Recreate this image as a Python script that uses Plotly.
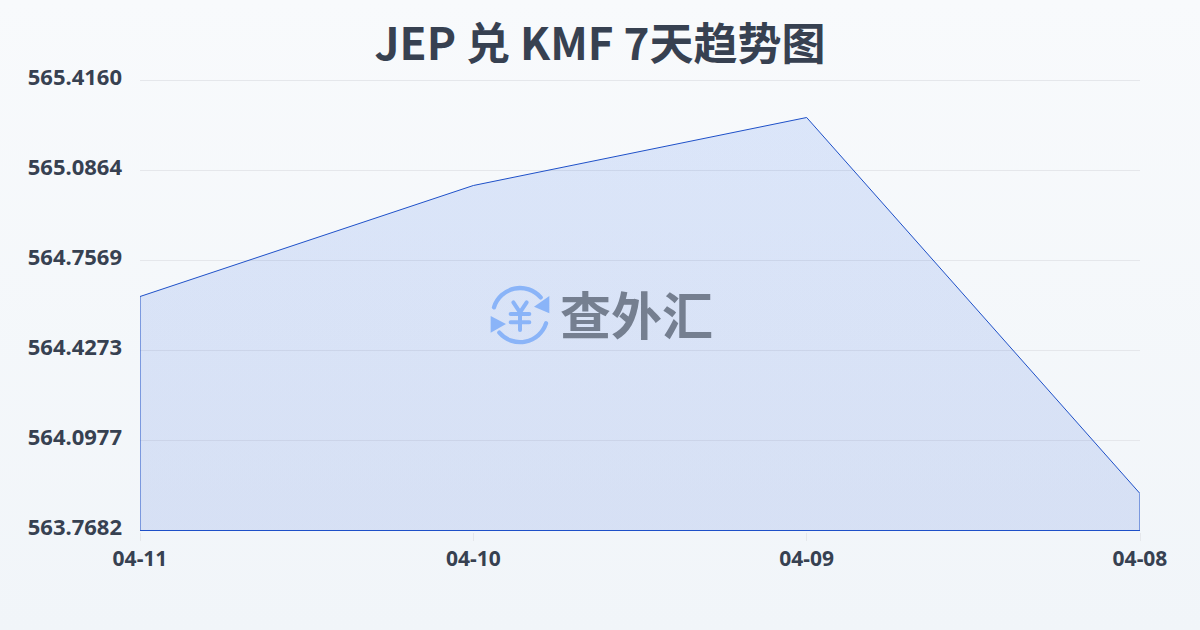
import base64
import plotly.graph_objects as go

dates = ['04-11', '04-10', '04-09', '04-08']
rates = [564.625, 565.0315, 565.2805, 563.9035]
y_ticks = [563.7682, 564.0977, 564.4273, 564.7569, 565.0864, 565.4160]
y_labels = ['563.7682', '564.0977', '564.4273', '564.7569', '565.0864', '565.4160']

title_text = 'JEP 兑 KMF 7天趋势图'
watermark_text = '查外汇'
font_main = 'Noto Sans, Noto Sans CJK SC'
font_cjk = 'Noto Sans CJK SC'
text_color = '#374151'
line_color = '#1e50c8'

# plot box in page pixels, 1.5px spare top and bottom so the end gridlines are kept
W, H = 1200, 630
left, right, top, bottom = 140, 1140, 79, 532
pad = 1.5 * (y_ticks[-1] - y_ticks[0]) / 450
box_w = right - left
box_h = bottom - top


def px_x(x):
    return (x - left) / box_w


def px_y(y):
    return (bottom - y) / box_h


# page background, top to bottom
bg_svg = ('<svg xmlns="http://www.w3.org/2000/svg" width="1200" height="630">'
          '<defs><linearGradient id="g" x1="0" y1="0" x2="0" y2="1">'
          '<stop offset="0" stop-color="#f8fafc"/><stop offset="1" stop-color="#f1f5f9"/>'
          '</linearGradient></defs><rect width="1200" height="630" fill="url(#g)"/></svg>')

# round arrows and yen sign of the watermark
logo_svg = ('<svg xmlns="http://www.w3.org/2000/svg" viewBox="60 43 180 180" width="60" height="60">'
            '<g fill="none" stroke="#8ab4f8" stroke-linecap="round">'
            '<path stroke-width="13" d="M72 110 A82 82 0 0 1 212 80"/>'
            '<path stroke-width="13" d="M228 158 A82 82 0 0 1 88 186"/>'
            '<path stroke-width="12" d="M130 95 L150 125 L170 95 M122 130 H178 M122 155 H178 M150 125 V178"/></g>'
            '<path d="M238 76 V128 L192 108 Z M62 136 V186 L108 160 Z" fill="#8ab4f8"/></svg>')


def svg_uri(svg):
    return 'data:image/svg+xml;base64,' + base64.b64encode(svg.encode('utf-8')).decode()


# outline runs down to the axis at both ends and back along it
x_closed = [dates[0]] + dates + [dates[-1], dates[0]]
y_closed = [y_ticks[0]] + rates + [y_ticks[0], y_ticks[0]]

fig = go.Figure()
fig.add_trace(go.Scatter(x=x_closed, y=y_closed, mode='lines', fill='toself',
                         fillgradient=dict(type='vertical',
                                           colorscale=[[0, 'rgba(30,80,210,0.13)'], [1, 'rgba(50,110,235,0.14)']]),
                         line=dict(color=line_color, width=1),
                         cliponaxis=False, hoverinfo='skip', showlegend=False))

fig.update_layout(
    width=W, height=H,
    margin=dict(l=left, r=W - right, t=top, b=H - bottom),
    paper_bgcolor='rgba(0,0,0,0)',
    plot_bgcolor='rgba(0,0,0,0)',
    font=dict(family=font_main, color=text_color),
    title=dict(text=title_text, x=0.5, xanchor='center', y=1 - 45 / H, yanchor='middle',
               font=dict(family=font_cjk, size=44, color=text_color, weight=700)),
    xaxis=dict(type='category', categoryorder='array', categoryarray=dates, range=[0, 3],
               showgrid=False, zeroline=False, showline=False,
               ticks='outside', ticklen=8, tickcolor='#e5e7eb', tickwidth=1,
               tickfont=dict(family=font_main, size=21, color=text_color, weight=700)),
    yaxis=dict(range=[y_ticks[0] - pad, y_ticks[-1] + pad], tickmode='array', tickvals=y_ticks, ticktext=y_labels,
               showgrid=True, gridcolor='#e5e7eb', gridwidth=1, zeroline=False, showline=False,
               ticks='', ticklabelstandoff=17, ticklabelshift=-3,
               tickfont=dict(family=font_main, size=22, color=text_color, weight=700)),
    images=[
        dict(source=svg_uri(bg_svg), xref='paper', yref='paper', x=px_x(0), y=px_y(0),
             sizex=W / box_w, sizey=H / box_h, sizing='stretch', xanchor='left', yanchor='top', layer='below'),
        dict(source=svg_uri(logo_svg), xref='paper', yref='paper', x=px_x(490), y=px_y(285),
             sizex=60 / box_w, sizey=60 / box_h, sizing='contain', xanchor='left', yanchor='top', layer='above'),
    ],
    annotations=[dict(text=watermark_text, xref='paper', yref='paper',
                      x=px_x(636), y=px_y(313), xanchor='center', yanchor='middle',
                      showarrow=False, font=dict(family=font_cjk, size=51, color='#757f90', weight=700))],
)

fig.write_html('out.html', config={'displayModeBar': False},
               post_script="document.body.style.margin='0';document.body.style.background='#f5f7fa';")
